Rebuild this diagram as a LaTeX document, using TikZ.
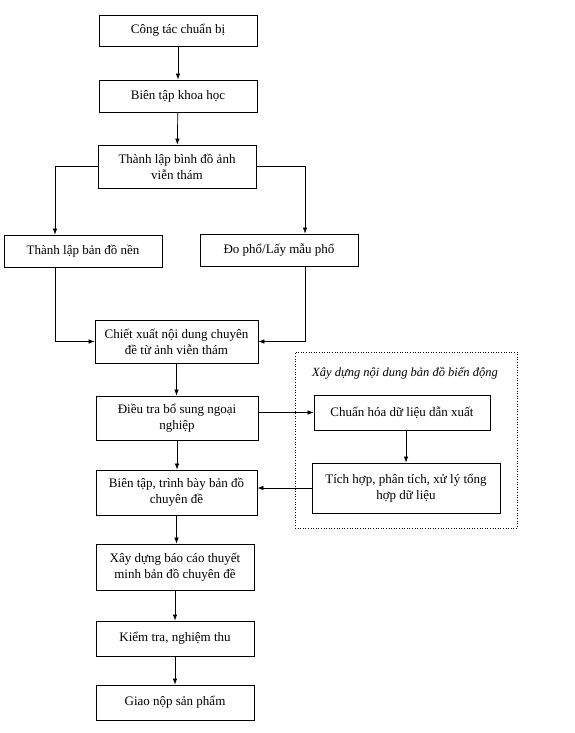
\documentclass[tikz,border=0pt]{standalone}
\usepackage{fontspec}
\setmainfont{Liberation Serif}
\usetikzlibrary{arrows.meta}

\begin{document}
\begin{tikzpicture}[x=1pt,y=-1pt,>={Latex[length=6pt,width=4.5pt]},
    box/.style={draw,line width=0.8pt,align=center,inner sep=2pt,
      minimum width=158pt,font=\fontsize{13}{16}\selectfont},
    frame/.style={draw,dotted,line width=0.6pt,inner sep=0pt},
    link/.style={->,line width=0.7pt}]
    \useasboundingbox (0,0) rectangle (575,733);
    \node (s1) [box,minimum height=31pt] at (178,30.5) {Công tác chuẩn bị};
    \node (s2) [box,minimum height=32pt] at (178,96) {Biên tập khoa học};
    \node (s3) [box,minimum height=43pt] at (177,166.5) {Thành lập bình đồ ảnh\\viễn thám};
    \node (l1) [box,minimum height=32pt] at (83,251) {Thành lập bản đồ nền};
    \node (r1) [box,minimum height=32pt] at (279,250) {Đo phổ/Lấy mẫu phổ};
    \node (s4) [box,minimum width=163pt,minimum height=43pt] at (176.5,341.5) {Chiết xuất nội dung chuyên\\đề từ ảnh viễn thám};
    \node (s5) [box,minimum width=162pt,minimum height=44pt] at (177,418) {Điều tra bổ sung ngoại\\nghiệp};
    \node (s6) [box,minimum width=161pt,minimum height=45pt] at (176.5,492.5) {Biên tập, trình bày bản đồ\\chuyên đề};
    \node (s7) [box,minimum height=46pt] at (175,567) {Xây dựng báo cáo thuyết\\minh bản đồ chuyên đề};
    \node (s8) [box,minimum height=35pt] at (175,638.5) {Kiểm tra, nghiệm thu};
    \node (s9) [box,minimum height=35pt] at (175,702.5) {Giao nộp sản phẩm};
    \node (f1) [frame,minimum width=222pt,minimum height=176pt] at (406,440) {};
    \node (t1) at (405,373) {\fontsize{12.5}{15}\selectfont\itshape Xây dựng nội dung bản đồ biến động};
    \node (d1) [box,minimum width=176pt,minimum height=35pt] at (402,412.5) {Chuẩn hóa dữ liệu dẫn xuất};
    \node (d2) [box,minimum width=188pt,minimum height=50pt] at (406,488) {Tích hợp, phân tích, xử lý tổng\\hợp dữ liệu};
    \draw[link] (s1) -- (s2);
    \draw[link] (s2) -- (s3);
    \draw[link] (s3.west) -| ([xshift=-28pt]l1.north);
    \draw[link] (s3.east) -| ([xshift=26pt]r1.north);
    \draw[link] ([xshift=-28pt]l1.south) |- (s4.west);
    \draw[link] ([xshift=26pt]r1.south) |- (s4.east);
    \draw[link] (s4) -- (s4 |- s5.north);
    \draw[link] (s5) -- (s5 |- s6.north);
    \draw[link] (s6) -- (s6 |- s7.north);
    \draw[link] (s7) -- (s8);
    \draw[link] (s8) -- (s9);
    \draw[link] (s5.east |- d1.west) -- (d1.west);
    \draw[link] (d1.south -| d2) -- (d2.north);
    \draw[link] (d2.west) -- (d2.west -| s6.east);
  \end{tikzpicture}
\end{document}
